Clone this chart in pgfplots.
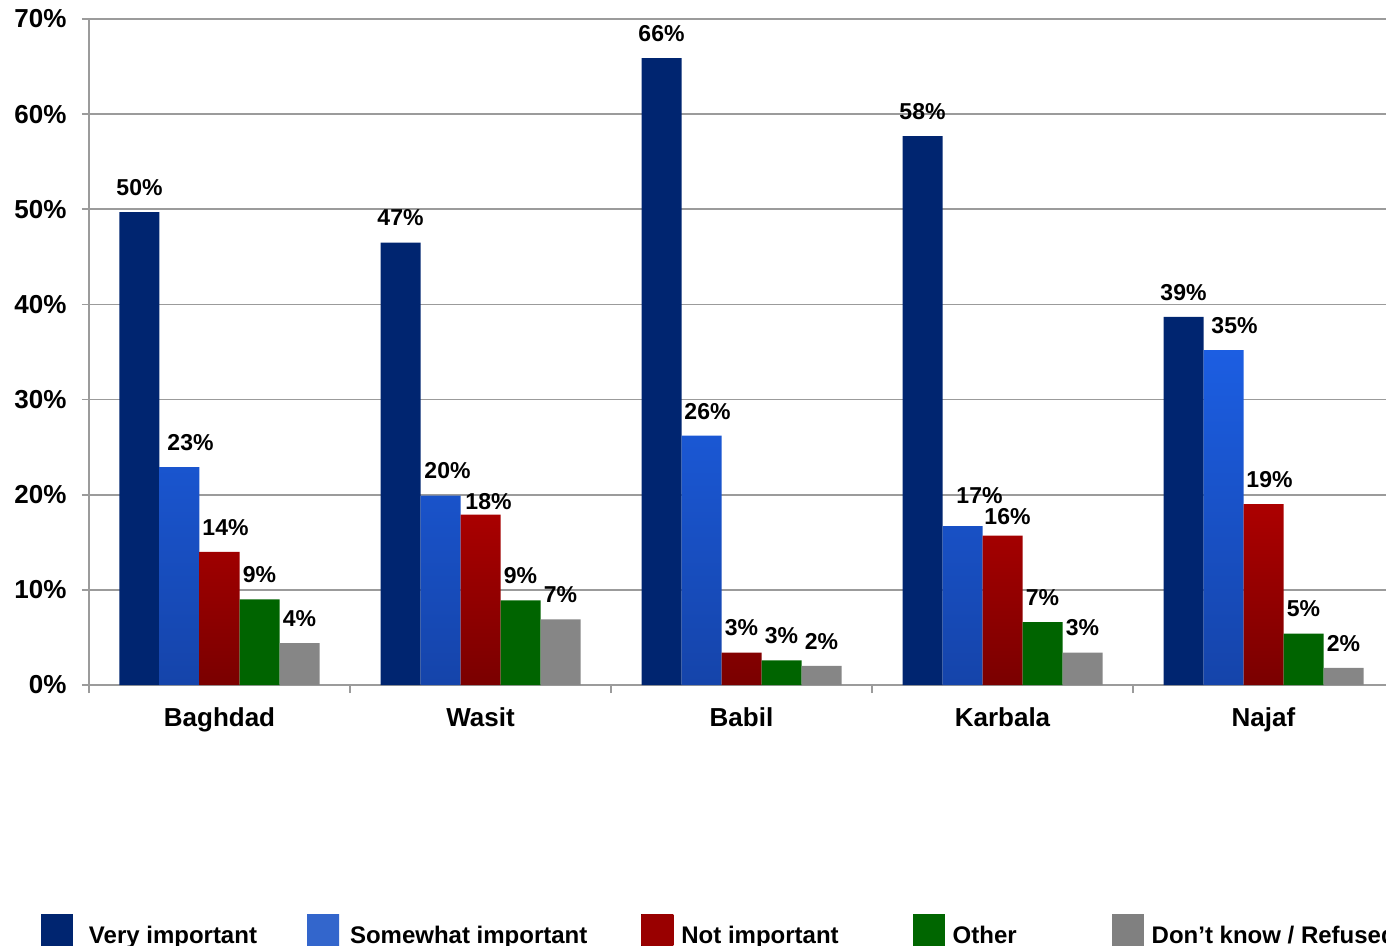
\documentclass[border=0pt]{standalone}
\usepackage{fontspec}
\setmainfont{Liberation Sans}
\usepackage{pgfplots}
\usepackage{pgfplotstable}
\pgfplotsset{compat=1.18}
\definecolor{cA}{RGB}{0,37,112}
\definecolor{cBt}{RGB}{28,94,226}
\definecolor{cBb}{RGB}{21,68,170}
\definecolor{cBl}{RGB}{51,102,204}
\definecolor{cCt}{RGB}{172,0,0}
\definecolor{cCb}{RGB}{122,0,0}
\definecolor{cCl}{RGB}{153,0,0}
\definecolor{cD}{RGB}{0,100,0}
\definecolor{cDl}{RGB}{0,102,0}
\definecolor{cE}{RGB}{134,134,134}
\definecolor{cEl}{RGB}{128,128,128}
\definecolor{gridc}{RGB}{155,155,155}

\pgfplotstableread{
x y lbl dx dy
0 49.7 50 0 0
1 46.5 47 0 0
2 65.9 66 0 0
3 57.7 58 0 0
4 38.7 39 0 0
}\tabA
\pgfplotstableread{
x y lbl dx dy
0 22.9 23 5.5 0
1 19.9 20 3.5 0
2 26.2 26 3 0
3 16.7 17 8.5 3
4 35.2 35 5.5 0
}\tabB
\pgfplotstableread{
x y lbl dx dy
0 14.0 14 3 0
1 17.9 18 4 -5.5
2 3.4 3 0 0
3 15.7 16 2.5 -3
4 19.0 19 3 0
}\tabC
\pgfplotstableread{
x y lbl dx dy
0 9.0 9 0 0
1 8.9 9 0 0
2 2.6 3 0 0
3 6.6 7 0 0
4 5.4 5 0 0
}\tabD
\pgfplotstableread{
x y lbl dx dy
0 4.4 4 0 0
1 6.9 7 0 0
2 2.0 2 0 0
3 3.4 3 0 0
4 1.8 2 0 0
}\tabE

\pgfplotsset{
  lblstyle/.style={
    point meta=explicit symbolic,
    visualization depends on={\thisrow{dx}\as\mydx},
    visualization depends on={\thisrow{dy}\as\mydy},
    nodes near coords={\pgfplotspointmeta\%},
    every node near coord/.append style={
      font=\fontsize{11.5}{13}\selectfont\bfseries, text=black,
      xshift=\mydx pt, yshift={4.7pt+\mydy pt}},
  }
}

\begin{document}
\begin{tikzpicture}
\begin{axis}[
  name=ax,
  scale only axis, width=652.5pt, height=333pt,
  xmin=-0.5, xmax=4.5, ymin=0, ymax=70,
  axis lines=left, axis line style={-, draw=gridc, line width=0.8pt},
  ybar=0pt, bar width=20pt,
  xtick={0,1,2,3,4}, xticklabels={Baghdad,Wasit,Babil,Karbala,Najaf},
  minor xtick={-0.5,0.5,1.5,2.5,3.5,4.5},
  ytick={0,10,...,70},
  yticklabel={\pgfmathprintnumber{\tick}\%},
  ymajorgrids, grid style={draw=gridc, line width=0.8pt},
  tick align=outside,
  major tick length=3.5pt, minor tick length=4pt,
  tick style={draw=gridc, line width=0.8pt},
  major x tick style={draw=none},
  ticklabel style={font=\fontsize{13}{15}\selectfont\bfseries},
  /pgf/number format/assume math mode=true,
  xticklabel style={anchor=base, yshift=-17pt},
  yticklabel style={anchor=east, xshift=-4.2pt},
  clip=false,
  legend columns=5,
  legend style={draw=none, inner sep=0pt, outer sep=0pt, anchor=west,
    at={(-0.0368,-0.368)},
    font=\fontsize{12}{14}\selectfont\bfseries,
    nodes={inner sep=0pt},
    /tikz/column 1/.style={column sep=8pt},
    /tikz/column 2/.style={column sep=25pt},
    /tikz/column 3/.style={column sep=5.5pt},
    /tikz/column 4/.style={column sep=27pt},
    /tikz/column 5/.style={column sep=4pt},
    /tikz/column 6/.style={column sep=37pt},
    /tikz/column 7/.style={column sep=4pt},
    /tikz/column 8/.style={column sep=47.5pt},
    /tikz/column 9/.style={column sep=4pt},
  },
]
\addplot[fill=cA, draw=none, lblstyle,
  legend image code/.code={\fill[cA] (0pt,-5.1pt) rectangle (16pt,10.9pt);}]
  table[x=x,y=y,meta=lbl]{\tabA};
\addlegendentry{Very important}
\addplot[top color=cBt, bottom color=cBb, draw=none, lblstyle,
  legend image code/.code={\fill[top color=cBl, bottom color=cBl] (0pt,-5.1pt) rectangle (16pt,10.9pt);}]
  table[x=x,y=y,meta=lbl]{\tabB};
\addlegendentry{Somewhat important}
\addplot[top color=cCt, bottom color=cCb, draw=none, lblstyle,
  legend image code/.code={\fill[top color=cCl, bottom color=cCl] (0pt,-5.1pt) rectangle (16pt,10.9pt);}]
  table[x=x,y=y,meta=lbl]{\tabC};
\addlegendentry{Not important}
\addplot[fill=cD, draw=none, lblstyle,
  legend image code/.code={\fill[cDl] (0pt,-5.1pt) rectangle (16pt,10.9pt);}]
  table[x=x,y=y,meta=lbl]{\tabD};
\addlegendentry{Other}
\addplot[fill=cE, draw=none, lblstyle,
  legend image code/.code={\fill[cEl] (0pt,-5.1pt) rectangle (16pt,10.9pt);}]
  table[x=x,y=y,meta=lbl]{\tabE};
\addlegendentry{Don’t know / Refused}
\end{axis}
\pgfresetboundingbox
\useasboundingbox ([xshift=-44.5pt,yshift=-130.5pt]ax.south west) rectangle ([xshift=648.5pt,yshift=9.5pt]ax.north west);
\end{tikzpicture}
\end{document}
